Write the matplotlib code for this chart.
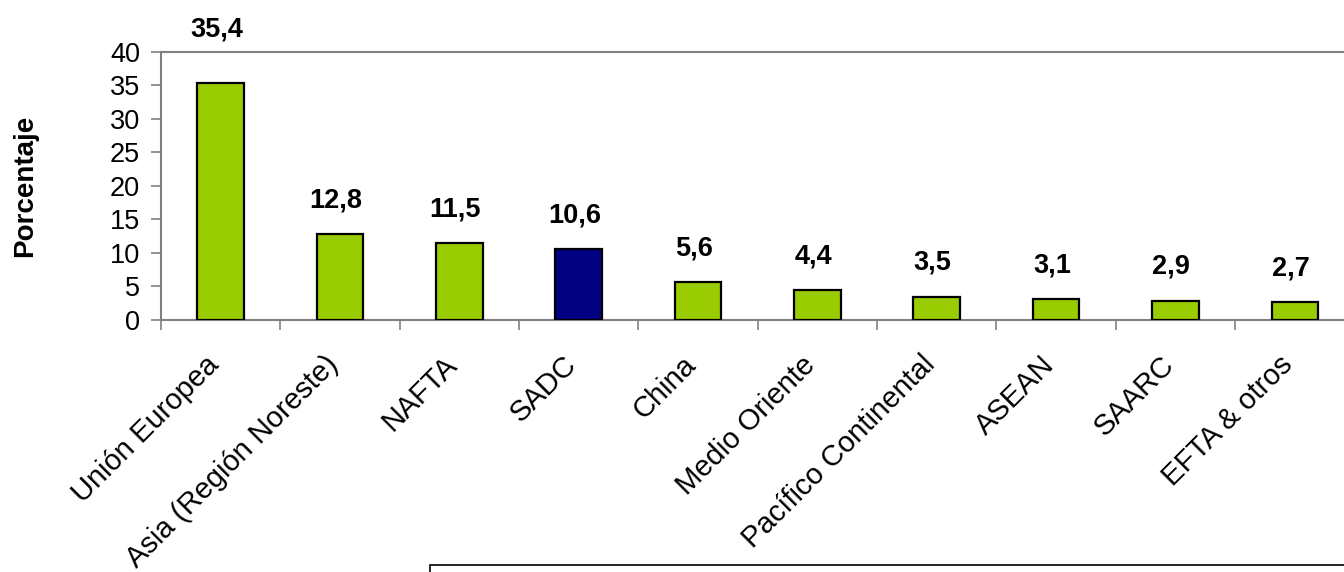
import matplotlib.pyplot as plt
import matplotlib.patches as mpatches
import matplotlib.transforms as mtransforms
import numpy as np

plt.rcParams['font.family'] = ['Liberation Sans', 'DejaVu Sans']

categorias = ["Unión Europea", "Asia (Región Noreste)", "NAFTA", "SADC", "China",
              "Medio Oriente", "Pacífico Continental", "ASEAN", "SAARC", "EFTA & otros"]
valores = [35.4, 12.8, 11.5, 10.6, 5.6, 4.4, 3.5, 3.1, 2.9, 2.7]
etiquetas = ["35,4", "12,8", "11,5", "10,6", "5,6", "4,4", "3,5", "3,1", "2,9", "2,7"]
yticks = [0, 5, 10, 15, 20, 25, 30, 35, 40]

colores = ["#99CC00"] * len(valores)
colores[3] = "#000080"

fig = plt.figure(figsize=(13.44, 5.72), dpi=100)
ax = fig.add_axes([0.1198, 0.4406, 0.888, 0.4685])

x = np.arange(len(valores))
ax.bar(x, valores, width=0.39, color=colores, edgecolor="black", linewidth=1.6, zorder=3)

# etiquetas de valor
for i, (v, t) in enumerate(zip(valores, etiquetas)):
    off = 29 if i == 0 else 15
    ax.annotate(t, (i, v), xytext=(-3, off), textcoords="offset points",
                ha="center", va="bottom", fontsize=19.5, fontweight="bold",
                annotation_clip=False)

ax.set_xlim(-0.5, len(valores) - 0.5)
ax.set_ylim(0, 40)
ax.set_yticks(yticks)
ax.set_yticklabels([str(t) for t in yticks], fontsize=19.5)

ax.set_xticks(np.arange(len(valores) + 1) - 0.5)
ax.set_xticklabels([])
ax.set_xticks(x, minor=True)
ax.set_xticklabels(categorias, minor=True, rotation=45, ha="right",
                   rotation_mode="anchor", fontsize=21)
ax.tick_params(axis="x", which="minor", length=0, pad=22)
ax.tick_params(axis="x", which="major", length=7, color="#808080", width=1.2)
ax.tick_params(axis="y", length=7, color="#808080", width=1.2, pad=8)

desplaza = mtransforms.ScaledTranslation(-16 / 100, 0, fig.dpi_scale_trans)
for lab in ax.get_xticklabels(minor=True):
    lab.set_transform(lab.get_transform() + desplaza)

for s in ["left", "bottom", "top"]:
    ax.spines[s].set_color("#808080")
    ax.spines[s].set_linewidth(1.5)
ax.spines["right"].set_visible(False)

ax.set_ylabel("Porcentaje", fontsize=20, fontweight="bold", labelpad=52)

# recuadro inferior
fig.patches.append(mpatches.Rectangle((430 / 1344, -0.05), 0.7, (572 - 565) / 572 + 0.05,
                                      transform=fig.transFigure, fill=False,
                                      edgecolor="black", linewidth=1.2))

fig.savefig("out.png", dpi=100)
